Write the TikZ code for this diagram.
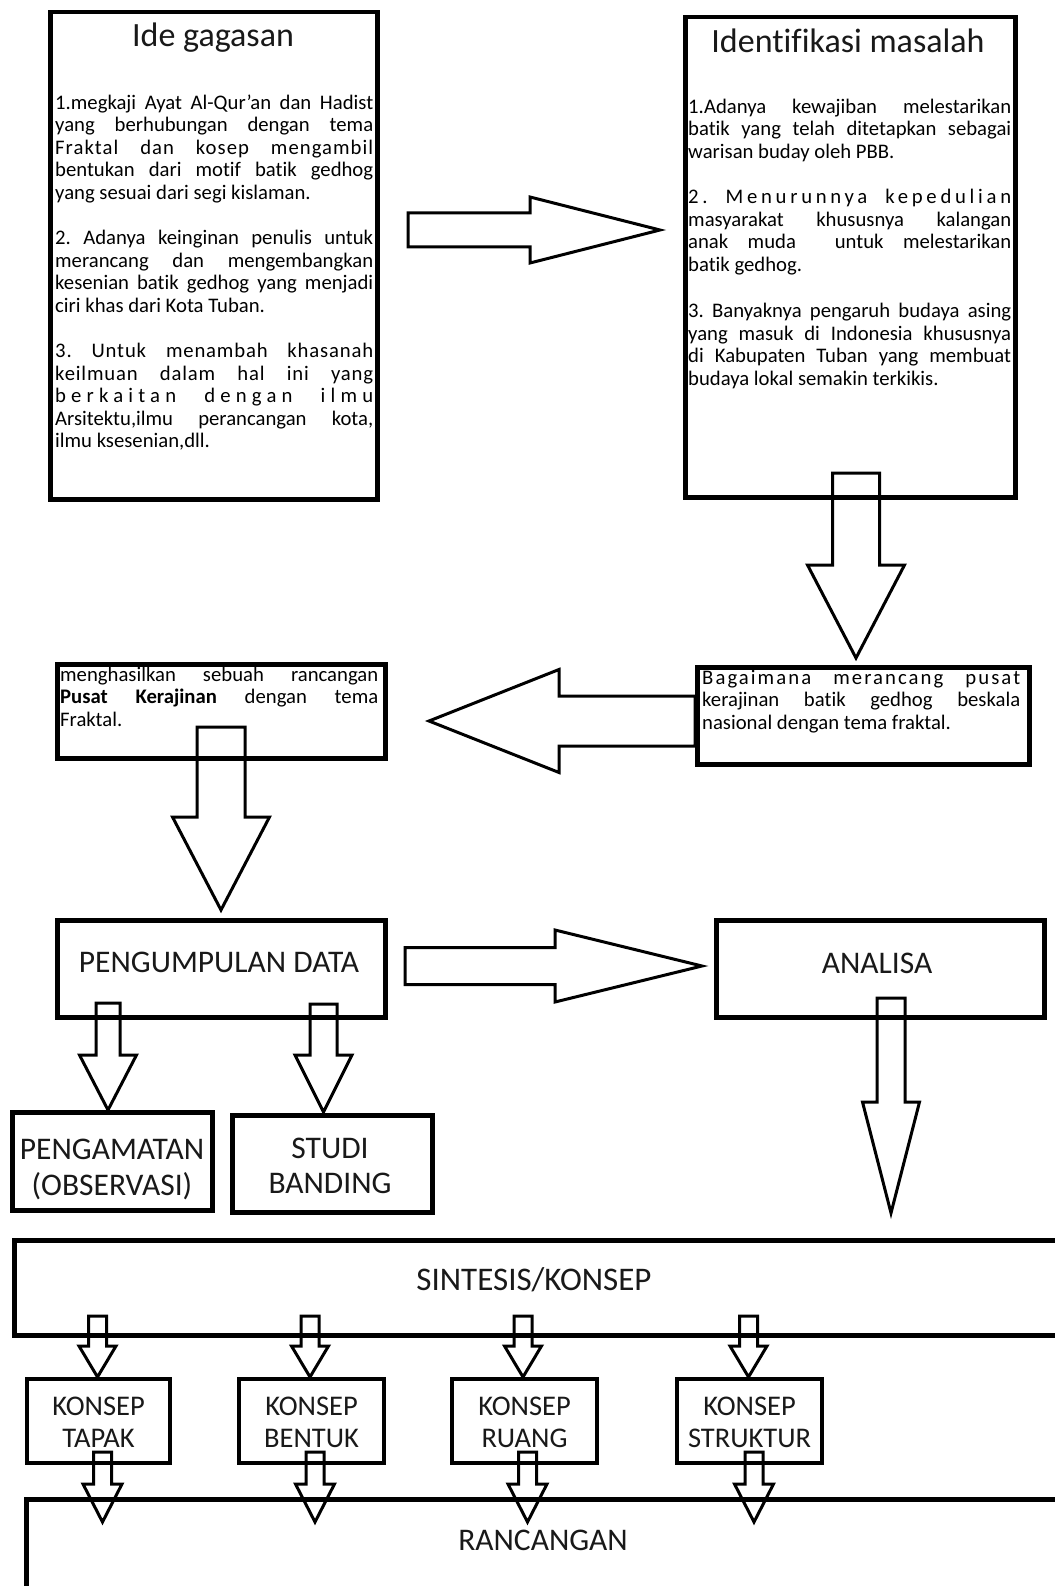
\documentclass[tikz,border=0pt]{standalone}
\usepackage{fontspec}
\setmainfont{Carlito}[Ligatures={TeX,NoCommon}]
\frenchspacing
\newcommand\jl[2]{\makebox[#1][s]{#2}}
\newcommand\lsp[1]{\addfontfeature{LetterSpace=#1}}
\newcommand\bx[5]{\node[box, anchor=north west, minimum width={#4-#2}, minimum height={#5-#3}] (#1) at (#2,#3) {};}
% vertical block arrow: name, cx, ytop, ybase, ytip, half shaft, half head
\newcommand\varr[7]{\coordinate (#1) at (#2,#5);
 \draw[blk] ({#2-#6},#3) -- ({#2+#6},#3) -- ({#2+#6},#4) -- ({#2+#7},#4) -- (#1) -- ({#2-#7},#4) -- ({#2-#6},#4) -- cycle;}
% horizontal block arrow: name, cy, xstart, xbase, xtip, half shaft, half head
\newcommand\harr[7]{\coordinate (#1) at (#5,#2);
 \draw[blk] (#3,{#2-#6}) -- (#4,{#2-#6}) -- (#4,{#2-#7}) -- (#1) -- (#4,{#2+#7}) -- (#4,{#2+#6}) -- (#3,{#2+#6}) -- cycle;}
\tikzset{
 box/.style={draw, line width=4.5pt, inner sep=0pt},
 sbox/.style={draw, line width=4pt, inner sep=0pt},
 blk/.style={draw, line width=3pt, line join=miter},
 body/.style={font=\fontsize{20.7}{22.5}\selectfont, inner sep=0pt, align=left, anchor=north west, text=black},
 title/.style={font=\fontsize{34}{40}\selectfont, inner sep=0pt, anchor=base, text=black!90},
 caps/.style={font=\fontsize{31.5}{36}\selectfont, inner sep=0pt, anchor=base, text=black!90},
 kcaps/.style={font=\fontsize{28.5}{32}\selectfont, inner sep=0pt, anchor=base, text=black!90},
}
\begin{document}
\begin{tikzpicture}[x=1pt,y=-1pt]
\fill[white] (0,0) rectangle (1054,1586);
\useasboundingbox (0,0) rectangle (1054,1586);

% ---------- boxes ----------
\bx{boxA}{48}{10}{375}{497}
\bx{boxB}{683}{15}{1013}{495}
\bx{boxC}{695}{665}{1027}{762}
\bx{boxD}{55}{662}{383}{756}
\bx{boxE}{55}{918}{383}{1015}
\bx{boxF}{714}{918}{1042}{1015}
\bx{boxG}{10}{1110}{210}{1208}
\bx{boxH}{230}{1113}{430}{1210}
\bx{boxI}{12}{1238}{1064}{1333}
\bx{boxJ}{24}{1497}{1064}{1600}
\node[sbox, anchor=north west, minimum width=143pt, minimum height=84pt] (k1) at (25,1377) {};
\node[sbox, anchor=north west, minimum width=145pt, minimum height=84pt] (k2) at (237,1377) {};
\node[sbox, anchor=north west, minimum width=145pt, minimum height=84pt] (k3) at (450,1377) {};
\node[sbox, anchor=north west, minimum width=145pt, minimum height=84pt] (k4) at (675,1377) {};

% ---------- texts ----------
\node[title] (tA) at (213,47) {Ide gagasan};
\node[body] (bA) at (55,93.25) {\strut\jl{318pt}{1.megkaji Ayat Al-Qur'an dan Hadist}\\
\jl{318pt}{yang berhubungan dengan tema}\\
\jl{318pt}{\lsp{5}Fraktal dan kosep mengambil}\\
\jl{318pt}{bentukan dari motif batik gedhog}\\
yang sesuai dari segi kislaman.\\[23pt]
\jl{318pt}{2. Adanya keinginan penulis untuk}\\
\jl{318pt}{merancang dan mengembangkan}\\
\jl{318pt}{kesenian batik gedhog yang menjadi}\\
ciri khas dari Kota Tuban.\\[23pt]
\jl{318pt}{\lsp{4}3. Untuk menambah khasanah}\\
\jl{318pt}{\lsp{4}keilmuan dalam hal ini yang}\\
\jl{318pt}{\lsp{25}berkaitan dengan ilmu}\\
\jl{318pt}{Arsitektu,ilmu perancangan kota,}\\
ilmu ksesenian,dll.};

\node[title] (tB) at (848,53) {Identifikasi masalah};
\node[body] (bB) at (688,97.25) {\strut\jl{323pt}{1.Adanya kewajiban melestarikan}\\
\jl{323pt}{batik yang telah ditetapkan sebagai}\\
warisan buday oleh PBB.\\[23pt]
\jl{323pt}{\lsp{18}2. Menurunnya kepedulian}\\
\jl{323pt}{masyarakat khususnya kalangan}\\
\jl{323pt}{anak muda\ \ untuk melestarikan}\\
batik gedhog.\\[24pt]
\jl{323pt}{3. Banyaknya pengaruh budaya asing}\\
\jl{323pt}{yang masuk di Indonesia khususnya}\\
\jl{323pt}{di Kabupaten Tuban yang membuat}\\
budaya lokal semakin terkikis.};

\node[body] (bC) at (702,668.5) {\strut\jl{318pt}{\lsp{10}Bagaimana merancang pusat}\\
\jl{318pt}{kerajinan batik gedhog beskala}\\
nasional dengan tema fraktal.};

\node[body] (bD) at (60,665.5) {\strut\jl{318pt}{menghasilkan sebuah rancangan}\\
\jl{318pt}{\textbf{Pusat Kerajinan} dengan tema}\\
Fraktal.};

\node[caps] (tE) at (219,972) {PENGUMPULAN DATA};
\node[caps] (tF) at (877,973) {ANALISA};
\node[caps] (tG1) at (112,1159) {PENGAMATAN};
\node[caps] (tG2) at (112,1195) {(OBSERVASI)};
\node[caps] (tH1) at (330,1158) {STUDI};
\node[caps] (tH2) at (330,1193) {BANDING};
\node[font=\fontsize{33}{38}\selectfont, inner sep=0pt, anchor=base, text=black!90] (tI) at (534,1290) {SINTESIS/KONSEP};
\node[caps] (tJ) at (543,1550) {RANCANGAN};
\node[kcaps] (tk1a) at (k1.center |- 0,1415) {KONSEP};
\node[kcaps] (tk1b) at (k1.center |- 0,1447) {TAPAK};
\node[kcaps] (tk2a) at (k2.center |- 0,1415) {KONSEP};
\node[kcaps] (tk2b) at (k2.center |- 0,1447) {BENTUK};
\node[kcaps] (tk3a) at (k3.center |- 0,1415) {KONSEP};
\node[kcaps] (tk3b) at (k3.center |- 0,1447) {RUANG};
\node[kcaps] (tk4a) at (k4.center |- 0,1415) {KONSEP};
\node[kcaps] (tk4b) at (k4.center |- 0,1447) {STRUKTUR};

% ---------- block arrows ----------
\harr{aAB}{230}{408}{530}{660}{17}{33}
\varr{aBC}{856}{473}{565}{658}{23.5}{48.5}
\harr{aCD}{721}{695}{559}{429}{25}{51.5}
\varr{aDE}{221}{727}{817}{910}{24}{48.5}
\harr{aEF}{966}{405}{555}{702}{18.5}{36}
\varr{aFI}{891}{998}{1102}{1213}{14}{28.5}
\varr{aEG}{108}{1003}{1055}{1110}{12}{28.5}
\varr{aEH}{323.5}{1004}{1055}{1112}{13.5}{28.5}
\varr{aI1}{97.5}{1316}{1346}{1377}{9}{18.5}
\varr{aI2}{310}{1316}{1346}{1377}{9}{18.5}
\varr{aI3}{523}{1316}{1346}{1377}{9}{18.5}
\varr{aI4}{748.5}{1316}{1346}{1377}{9}{18.5}
\varr{aJ1}{102.5}{1452}{1484}{1522}{9}{19.5}
\varr{aJ2}{315}{1452}{1484}{1522}{9}{19.5}
\varr{aJ3}{527.5}{1452}{1484}{1522}{9}{19.5}
\varr{aJ4}{754}{1452}{1484}{1522}{9}{19.5}
\end{tikzpicture}
\end{document}
